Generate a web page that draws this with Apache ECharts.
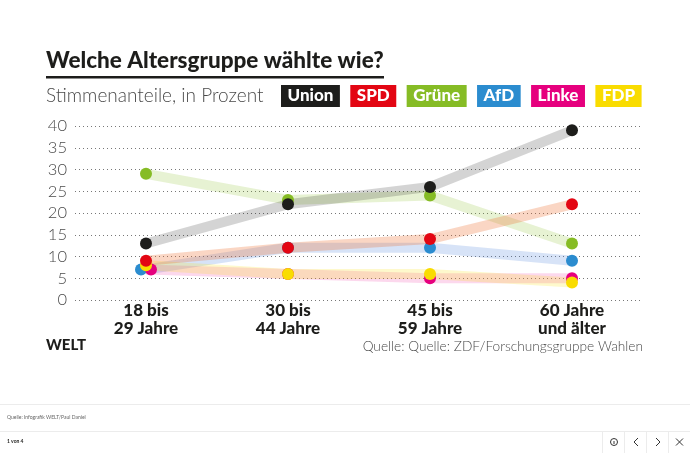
<!DOCTYPE html>
<html>
<head>
<meta charset="utf-8">
<style>html,body{margin:0;padding:0;background:#fff}#main{width:690px;height:453px}</style>
<script src="https://cdn.jsdelivr.net/npm/echarts@6/dist/echarts.min.js"></script>
</head>
<body>
<div id="main"></div>
<script>
var categories = ['18 bis\n29 Jahre', '30 bis\n44 Jahre', '45 bis\n59 Jahre', '60 Jahre\nund älter'];
var partyNames = ['Union', 'SPD', 'Grüne', 'AfD', 'Linke', 'FDP'];
var union = [13, 22, 26, 39];
var spd = [9, 12, 14, 22];
var gruene = [29, 23, 24, 13];
var afd = [7, 12, 12, 9];
var linke = [7, 6, 5, 5];
var fdp = [8, 6, 6, 4];

var fontName = 'Lato';
var dark = '#1d1d1b';
var grey = '#4a4a4a';
var rule = '#ececec';

// dots, legend box, line colour, line opacity, nudge of the first dot
var styles = {
    'Union': { color: '#1d1d1b', line: '#000000', op: 0.17, dx: 0 },
    'SPD': { color: '#e30613', line: '#ee6a2c', op: 0.28, dx: 0 },
    'Grüne': { color: '#86bc25', line: '#86bc25', op: 0.2, dx: 0 },
    'AfD': { color: '#2b8ccf', line: '#4a7fdc', op: 0.22, dx: -5 },
    'Linke': { color: '#e6007e', line: '#ec0f8c', op: 0.16, dx: 5 },
    'FDP': { color: '#f9dc00', line: '#fbe000', op: 0.2, dx: 0 }
};

var makeSeries = function(name, values) {
    var s = styles[name];
    return {
        name: name,
        type: 'line',
        symbol: 'circle',
        symbolSize: 12,
        itemStyle: { color: s.color, opacity: 1 },
        lineStyle: { color: s.line, opacity: s.op, width: 10, cap: 'butt' },
        data: values.map(function(v, i) {
            return i == 0 && s.dx ? { value: v, symbolOffset: [s.dx, 0] } : v;
        })
    };
};

var myChart = echarts.init(document.getElementById('main'), null, { renderer: 'canvas' });
var option = {
    animation: false,
    backgroundColor: '#fff',
    textStyle: { fontFamily: fontName },
    title: [{
        text: 'Welche Altersgruppe wählte wie?',
        left: 46,
        top: 49,
        padding: 0,
        textStyle: { fontFamily: fontName, fontSize: 22.5, fontWeight: 900, color: dark }
    }, {
        text: 'Stimmenanteile, in Prozent',
        left: 46,
        top: 86,
        padding: 0,
        textStyle: { fontFamily: fontName, fontSize: 19, fontWeight: 300, color: grey }
    }, {
        text: 'Quelle: Quelle: ZDF/Forschungsgruppe Wahlen',
        right: 47,
        top: 340,
        padding: 0,
        textStyle: { fontFamily: fontName, fontSize: 13.7, fontWeight: 300, color: grey }
    }, {
        text: 'WELT',
        left: 46,
        top: 338,
        padding: 0,
        textStyle: { fontFamily: fontName, fontSize: 15, fontWeight: 900, color: dark }
    }, {
        text: 'Quelle: Infografik WELT/Paul Daniel',
        left: 7,
        top: 415,
        padding: 0,
        textStyle: { fontFamily: fontName, fontSize: 5, fontWeight: 400, color: '#666' }
    }, {
        text: '1 von 4',
        left: 7,
        top: 439,
        padding: 0,
        textStyle: { fontFamily: fontName, fontSize: 5, fontWeight: 700, color: dark }
    }],
    legend: {
        left: 276,
        top: 85,
        padding: 0,
        itemGap: 5.4,
        itemWidth: 0,
        itemHeight: 0,
        icon: 'none',
        selectedMode: false,
        data: partyNames.map(function(name) {
            return {
                name: name,
                textStyle: {
                    fontFamily: fontName,
                    fontSize: 17,
                    fontWeight: 900,
                    color: '#fff',
                    backgroundColor: styles[name].color,
                    padding: [3, 6.5, 3, 6.5],
                    lineHeight: 16
                }
            };
        })
    },
    grid: { left: 75, right: 47, top: 126, bottom: 153 },
    xAxis: {
        type: 'category',
        data: categories,
        axisLine: { show: false },
        axisTick: { show: false },
        axisLabel: {
            margin: 2,
            fontFamily: fontName,
            fontSize: 17,
            fontWeight: 900,
            lineHeight: 18,
            color: dark
        }
    },
    yAxis: {
        type: 'value',
        min: 0,
        max: 40,
        interval: 5,
        axisLine: { show: false },
        axisTick: { show: false },
        axisLabel: {
            margin: 8,
            fontFamily: fontName,
            fontSize: 16.5,
            fontWeight: 300,
            color: grey
        },
        splitLine: { lineStyle: { color: '#777', width: 1, type: [1, 3] } }
    },
    series: [
        makeSeries('Grüne', gruene),
        makeSeries('AfD', afd),
        makeSeries('Linke', linke),
        makeSeries('FDP', fdp),
        makeSeries('SPD', spd),
        makeSeries('Union', union)
    ],
    graphic: [
        { type: 'rect', shape: { x: 46, y: 76, width: 338, height: 2.5 }, style: { fill: dark } },
        { type: 'line', shape: { x1: 0, y1: 404.5, x2: 690, y2: 404.5 }, style: { stroke: rule, lineWidth: 1 } },
        { type: 'line', shape: { x1: 0, y1: 431.5, x2: 690, y2: 431.5 }, style: { stroke: rule, lineWidth: 1 } },
        { type: 'line', shape: { x1: 602.5, y1: 431, x2: 602.5, y2: 453 }, style: { stroke: rule, lineWidth: 1 } },
        { type: 'line', shape: { x1: 624.5, y1: 431, x2: 624.5, y2: 453 }, style: { stroke: rule, lineWidth: 1 } },
        { type: 'line', shape: { x1: 646.5, y1: 431, x2: 646.5, y2: 453 }, style: { stroke: rule, lineWidth: 1 } },
        { type: 'line', shape: { x1: 668.5, y1: 431, x2: 668.5, y2: 453 }, style: { stroke: rule, lineWidth: 1 } },
        { type: 'circle', shape: { cx: 614, cy: 442, r: 3.5 }, style: { fill: 'none', stroke: '#333', lineWidth: 1 } },
        { type: 'line', shape: { x1: 614, y1: 441, x2: 614, y2: 444 }, style: { stroke: '#333', lineWidth: 1 } },
        { type: 'polyline', shape: { points: [[638, 438], [634, 442], [638, 446]] }, style: { fill: 'none', stroke: '#333', lineWidth: 1 } },
        { type: 'polyline', shape: { points: [[656, 438], [660, 442], [656, 446]] }, style: { fill: 'none', stroke: '#333', lineWidth: 1 } },
        { type: 'line', shape: { x1: 676, y1: 438.5, x2: 683, y2: 445.5 }, style: { stroke: '#333', lineWidth: 1 } },
        { type: 'line', shape: { x1: 683, y1: 438.5, x2: 676, y2: 445.5 }, style: { stroke: '#333', lineWidth: 1 } }
    ]
};
myChart.setOption(option);
</script>
</body>
</html>
